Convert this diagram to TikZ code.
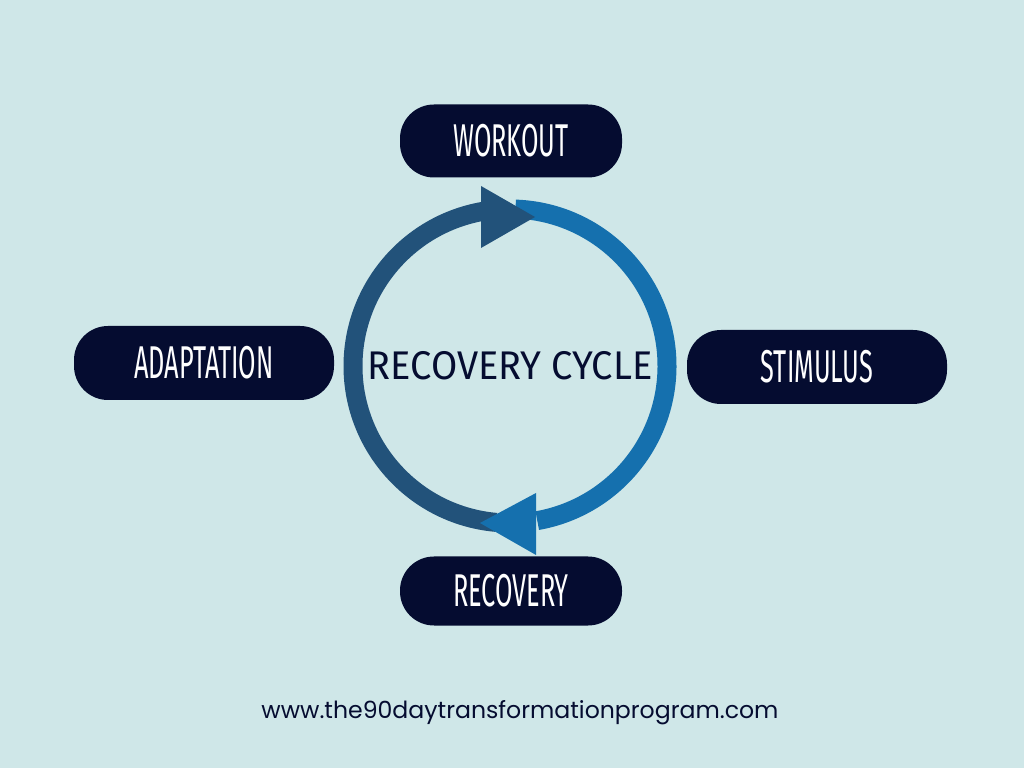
\documentclass[tikz,border=0pt]{standalone}
\usepackage{fontspec}
\newfontfamily\pillfont[FakeStretch=0.55]{Fira Sans}
\newfontfamily\ringfont[FakeStretch=0.95]{Fira Sans}
\newfontfamily\urlfont{Poppins}
\definecolor{bg}{HTML}{CFE7E8}
\definecolor{navy}{HTML}{050C30}
\definecolor{darkarc}{HTML}{22527A}
\definecolor{lightarc}{HTML}{1570AE}
\begin{document}
\begin{tikzpicture}[x=1pt,y=1pt,
  pill/.style={fill=navy, rounded corners=34pt, text=white, font=\pillfont\fontsize{46}{46}\selectfont,
    text height=31.7pt, text depth=0pt, inner sep=0pt, minimum width=#1},
  pill/.default=222pt]
\fill[bg] (0,0) rectangle (1024,768);
\useasboundingbox (0,0) rectangle (1024,768);
\coordinate (c) at (510,402);
% rings
\draw[darkarc, line width=19pt] ([shift={(265:157)}]c) arc[start angle=265, end angle=100, radius=157];
\draw[lightarc, line width=19pt] ([shift={(88:157)}]c) arc[start angle=88, end angle=-80, radius=157];
\fill[darkarc] (481,582) -- (535,551) -- (481,520) -- cycle;
\fill[lightarc] (536,275) -- (480,245) -- (536,213) -- cycle;
\node[text=navy, font=\ringfont\fontsize{40}{40}\selectfont, text height=27.5pt, text depth=0pt, inner sep=0pt] (title) at (c) {RECOVERY CYCLE};
% pills
\node[pill, minimum height=73pt] (workout) at (511,627) {WORKOUT};
\node[pill=260pt, minimum height=74pt] (adapt) at (204,405) {ADAPTATION};
\node[pill=260pt, minimum height=74pt] (stim) at (817,401) {STIMULUS};
\node[pill, minimum height=69pt] (recov) at (511,177) {RECOVERY};
\node[text=navy, font=\urlfont\fontsize{23.6}{23.6}\selectfont, inner sep=0pt, anchor=base] (url) at (520,50) {www.the90daytransformationprogram.com};
\end{tikzpicture}
\end{document}
